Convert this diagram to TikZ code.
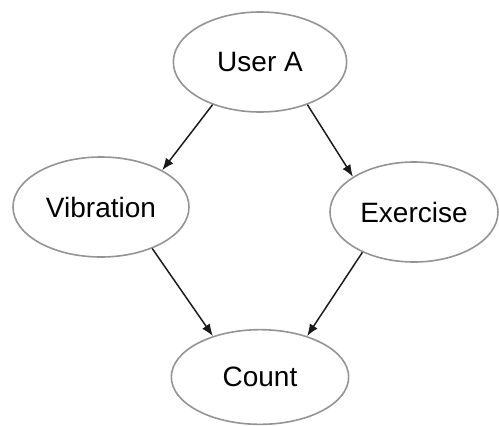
\documentclass[tikz,border=0pt]{standalone}
\usepackage{fontspec}
\setmainfont{Liberation Sans}
\usetikzlibrary{shapes.geometric,arrows.meta}

\begin{document}
\begin{tikzpicture}[x=0.75pt,y=-0.75pt,
  state/.style={ellipse,draw=black!42,line width=1.2pt,fill=white,inner sep=0pt,
    font=\fontsize{21}{25}\selectfont},
  link/.style={draw=black!90,line width=1.1pt,-{Latex[length=9pt,width=7pt]}}]
  \useasboundingbox (0,0) rectangle (499,425);

  % activity states
  \node[state,minimum width=130pt,minimum height=75pt] (ua) at (260,62) {User A};
  \node[state,minimum width=132pt,minimum height=75pt] (vib) at (101,207) {Vibration};
  \node[state,minimum width=126pt,minimum height=75pt] (ex) at (414,212) {Exercise};
  \node[state,minimum width=133pt,minimum height=71pt] (cnt) at (260,377) {Count};

  % dependencies
  \draw[link] (ua.222) -- (vib.31);
  \draw[link] (ua.318) -- (ex.150);
  \draw[link] (vib.321) -- (cnt.139);
  \draw[link] (ex.218) -- (cnt.41);
\end{tikzpicture}
\end{document}
